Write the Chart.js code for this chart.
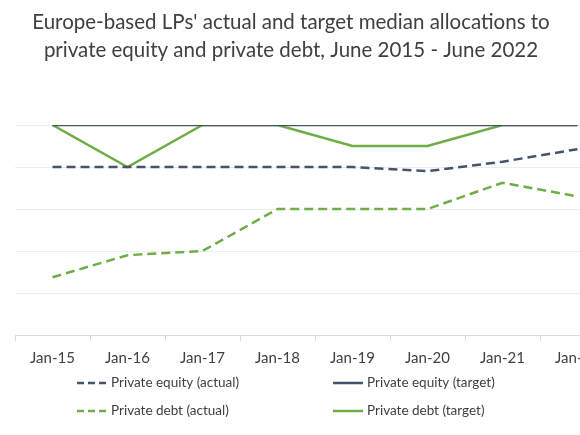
<!DOCTYPE html>
<html>
<head>
<meta charset="utf-8">
<script src="https://cdn.jsdelivr.net/npm/chart.js@4"></script>
<style>
  html, body { margin: 0; padding: 0; background: #fff; overflow: hidden; }
  #wrap { width: 620px; height: 435px; }
</style>
</head>
<body>
<div id="wrap"><canvas id="myChart" width="620" height="435"></canvas></div>
<script>
const labels = ["Jan-15", "Jan-16", "Jan-17", "Jan-18", "Jan-19", "Jan-20", "Jan-21", "Jan-22"];

const peActual = [8, 8, 8, 8, 8, 7.8, 8.25, 8.85];
const peTarget = [10, 10, 10, 10, 10, 10, 10, 10];
const pdActual = [2.75, 3.8, 4, 6, 6, 6, 7.25, 6.6];
const pdTarget = [10, 8, 10, 10, 9, 9, 10, 10];

const titleLines = [
  "Europe-based LPs' actual and target median allocations to",
  "private equity and private debt, June 2015 - June 2022"
];

const slate = "#44546a";
const green = "#70ad47";
const fontFam = "Lato, 'Open Sans', sans-serif";

const data = {
  labels: labels,
  datasets: [
    {
      label: "Private equity (actual)",
      borderColor: slate,
      borderDash: [9, 5],
      data: peActual
    },
    {
      label: "Private equity (target)",
      borderColor: slate,
      data: peTarget
    },
    {
      label: "Private debt (actual)",
      borderColor: green,
      borderDash: [9, 5],
      data: pdActual
    },
    {
      label: "Private debt (target)",
      borderColor: green,
      data: pdTarget
    }
  ]
};

// title centred on the visible 580px, legend in two fixed columns
const extras = {
  id: "extras",
  afterDraw(chart) {
    const ctx = chart.ctx;
    ctx.save();
    ctx.fillStyle = "#404040";
    ctx.textAlign = "center";
    ctx.textBaseline = "middle";
    ctx.font = "20.5px " + fontFam;
    ctx.fillText(titleLines[0], 291, 22);
    ctx.fillText(titleLines[1], 291, 50);

    const cols = [77, 333];
    const rows = [383, 411];
    ctx.textAlign = "left";
    chart.data.datasets.forEach((ds, i) => {
      const x = cols[i % 2];
      const y = rows[Math.floor(i / 2)];
      ctx.beginPath();
      ctx.strokeStyle = ds.borderColor;
      ctx.lineWidth = 2.5;
      ctx.setLineDash(ds.borderDash ? [7, 4] : []);
      ctx.moveTo(x, y);
      ctx.lineTo(x + 30, y);
      ctx.stroke();
      ctx.setLineDash([]);
      ctx.fillStyle = "#404040";
      ctx.font = "13.5px " + fontFam;
      ctx.fillText(ds.label, x + 34, y);
    });
    ctx.restore();
  }
};

const config = {
  type: "line",
  data: data,
  options: {
    responsive: false,
    animation: false,
    layout: { padding: { left: 15, right: 5, top: 125, bottom: 60 } },
    elements: {
      line: { borderWidth: 2.5, tension: 0 },
      point: { radius: 0 }
    },
    plugins: {
      legend: { display: false },
      tooltip: { enabled: false },
      title: { display: false }
    },
    scales: {
      x: {
        offset: true,
        grid: { drawOnChartArea: false, drawTicks: true, tickLength: 6, color: "#d9d9d9", offset: true },
        border: { color: "#d9d9d9" },
        ticks: { color: "#404040", padding: 8, maxRotation: 0, font: { family: fontFam, size: 15 } }
      },
      y: {
        min: 0,
        max: 10,
        ticks: { display: false, stepSize: 2 },
        grid: { color: "#ececec", drawTicks: false },
        border: { display: false }
      }
    }
  },
  plugins: [extras]
};

const myChart = new Chart(document.getElementById("myChart"), config);
</script>
</body>
</html>
